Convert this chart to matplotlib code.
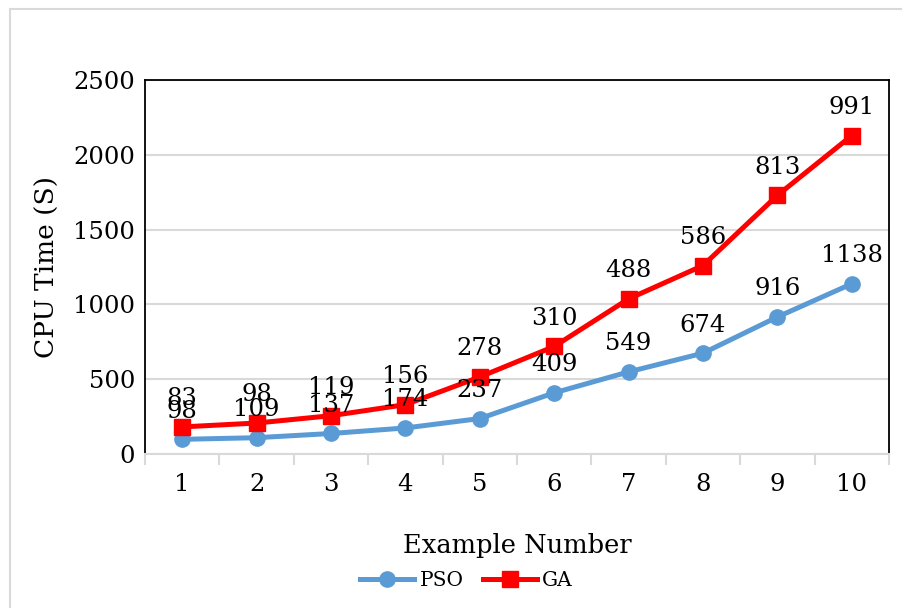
import matplotlib.pyplot as plt
from matplotlib.patches import Rectangle
import numpy as np

examples = [1, 2, 3, 4, 5, 6, 7, 8, 9, 10]
pso_time = [98, 109, 137, 174, 237, 409, 549, 674, 916, 1138]
ga_time = [83, 98, 119, 156, 278, 310, 488, 586, 813, 991]

plt.rcParams['font.family'] = ['DejaVu Serif']

fig = plt.figure(figsize=(9.02, 6.08), dpi=100)
ax = fig.add_axes([0.1608, 0.2533, 0.8248, 0.6151])

# GA is stacked on top of PSO
pso = np.array(pso_time)
ga_stacked = pso + np.array(ga_time)

ax.plot(examples, pso, color='#5B9BD5', lw=3.6, marker='o', ms=11, label='PSO', zorder=3)
ax.plot(examples, ga_stacked, color='#FF0000', lw=3.6, marker='s', ms=11, label='GA', zorder=3)

for x, y, v in zip(examples, pso, pso_time):
    ax.annotate(str(v), (x, y), xytext=(0, 12), textcoords='offset points',
                ha='center', va='bottom', fontsize=17.5)
for x, y, v in zip(examples, ga_stacked, ga_time):
    ax.annotate(str(v), (x, y), xytext=(0, 12), textcoords='offset points',
                ha='center', va='bottom', fontsize=17.5)

ax.set_xlim(0.5, 10.5)
ax.set_ylim(0, 2500)
ax.set_yticks(range(0, 2501, 500))
ax.set_xticks(examples)
ax.set_xticks(np.arange(0.5, 11, 1), minor=True)
ax.tick_params(axis='x', which='major', length=0, pad=14, labelsize=17.5)
ax.tick_params(axis='x', which='minor', length=8, width=1.5, color='#D9D9D9')
ax.tick_params(axis='y', length=0, pad=7, labelsize=17.5)
ax.grid(axis='y', color='#D9D9D9', lw=1.5, zorder=0)
ax.set_axisbelow(True)

for s in ['left', 'top', 'right']:
    ax.spines[s].set_color('black')
    ax.spines[s].set_linewidth(1.3)
ax.spines['bottom'].set_color('#D9D9D9')
ax.spines['bottom'].set_linewidth(1.5)

ax.set_xlabel('Example Number', fontsize=18.5, labelpad=26)
ax.set_ylabel('CPU Time (S)', fontsize=19, labelpad=10)

ax.legend(loc='upper center', bbox_to_anchor=(0.432, -0.265), ncol=2, frameon=False,
          fontsize=14.5, handlelength=2.7, columnspacing=0.95, handletextpad=0.25)

fig.patches.append(Rectangle((10 / 902, -0.1), 1.1, 1 - 9 / 608 + 0.1, transform=fig.transFigure,
                             fill=False, edgecolor='#D9D9D9', lw=1.5))

fig.savefig('out.png', dpi=100)
